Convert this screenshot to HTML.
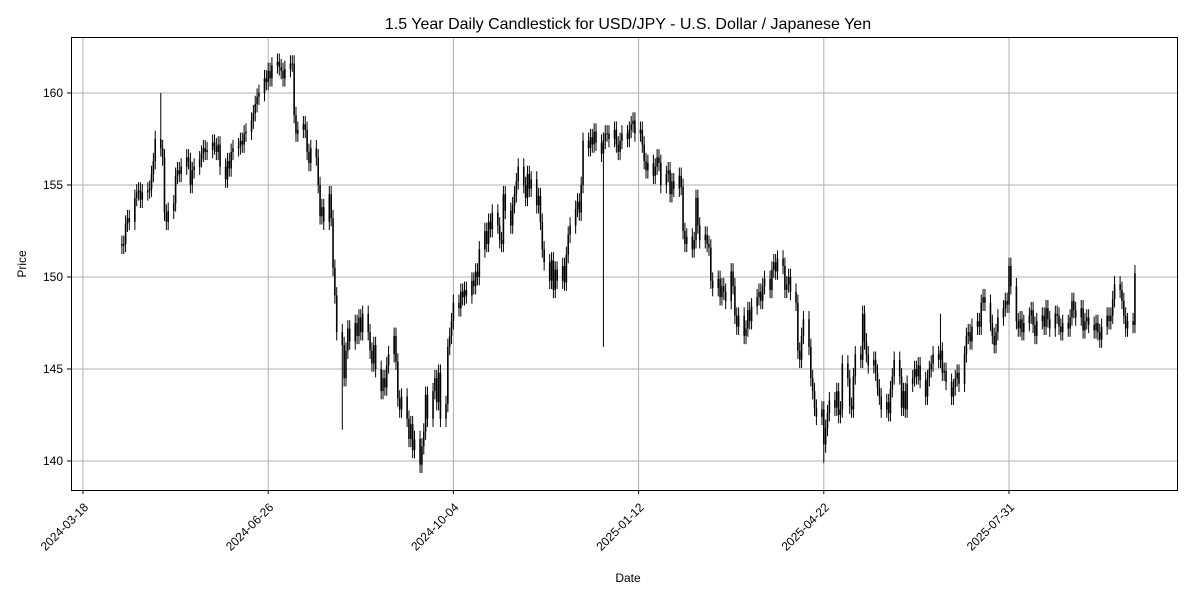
<!DOCTYPE html>
<html>
<head>
<meta charset="utf-8">
<style>
  html,body{margin:0;padding:0;background:#fff;}
  svg{display:block;font-family:"Liberation Sans","DejaVu Sans",sans-serif;}
</style>
</head>
<body>
<svg id="chart" width="1200" height="600" viewBox="0 0 1200 600">
  <rect x="0" y="0" width="1200" height="600" fill="#fff"/>
  <text x="628" y="29" text-anchor="middle" font-size="16" fill="#000">1.5 Year Daily Candlestick for USD/JPY - U.S. Dollar / Japanese Yen</text>
  <g id="grid"></g>
  <g id="candles"></g>
  <rect x="71.5" y="37.5" width="1106" height="453" fill="none" stroke="#000" stroke-width="1"/>
  <g id="xaxis"></g>
  <g id="yaxis"></g>
  <text x="628" y="582" text-anchor="middle" font-size="12">Date</text>
  <text x="0" y="0" transform="translate(26,264) rotate(-90)" text-anchor="middle" font-size="12">Price</text>
</svg>
<script>
const startDate = "2024-04-08";
const closes = [
151.7,151.8,152.9,153.2,153.0,154.3,154.6,154.7,154.2,154.6,154.7,154.8,155.6,156.3,157.5,157.0,156.5,153.5,153.0,153.6,
154.0,155.5,155.8,155.6,156.0,156.5,156.3,155.0,155.8,156.0,156.4,156.7,157.0,156.8,156.9,157.3,157.1,156.8,157.2,156.0,
155.3,156.3,155.9,156.8,157.0,157.1,157.4,157.2,157.8,157.9,158.5,158.9,159.4,159.8,160.0,160.8,160.6,161.2,160.8,161.5,
161.7,161.4,161.2,160.8,161.3,161.6,161.6,158.8,157.8,158.0,158.3,158.0,156.8,156.2,157.0,156.5,155.0,153.3,153.8,153.0,
154.5,153.2,150.5,149.0,147.0,146.3,144.5,146.0,147.2,146.5,147.5,146.8,147.8,147.0,148.0,147.0,146.0,145.3,146.3,145.0,
143.8,144.5,144.0,145.2,145.8,146.8,145.4,143.4,142.8,143.5,142.3,141.2,142.0,140.6,141.2,139.8,140.8,141.6,143.6,142.3,
143.8,144.5,143.2,144.8,142.3,143.1,146.2,146.8,147.6,148.6,148.3,149.2,148.9,149.3,149.0,149.8,149.5,150.3,150.0,151.5,
152.5,151.8,153.0,152.6,153.5,152.8,152.0,151.8,154.5,153.6,152.8,153.9,154.5,155.2,156.0,155.0,154.3,155.6,154.8,155.3,
153.9,154.4,153.0,151.5,150.8,149.8,150.9,149.3,150.4,149.8,150.6,149.7,151.2,152.3,152.8,153.7,154.1,153.5,155.0,157.4,
157.0,157.6,157.2,157.9,157.3,156.7,157.4,157.8,157.8,157.5,158.0,157.2,156.8,157.4,157.8,157.5,158.0,158.3,158.5,157.8,
158.0,157.2,156.3,155.8,156.2,155.5,156.0,156.5,156.2,155.0,155.6,155.8,154.5,155.2,154.8,155.5,154.9,152.5,151.8,152.2,
151.5,152.0,154.3,152.8,152.0,152.3,151.8,151.6,149.8,149.4,149.9,148.9,149.5,149.2,148.7,150.3,149.5,147.9,147.3,147.9,
146.8,147.2,148.2,147.6,148.4,148.9,149.2,148.7,149.5,149.9,149.3,150.4,150.8,150.3,151.0,150.6,149.3,149.6,150.0,149.2,
148.6,146.0,145.5,146.8,147.7,146.2,144.5,143.8,142.9,142.4,142.8,140.9,141.8,142.6,143.3,142.9,143.8,142.5,142.8,145.3,
144.5,143.0,142.8,144.6,145.8,145.5,148.0,146.5,145.8,145.2,145.5,144.8,144.0,143.5,142.8,143.2,142.6,143.9,144.6,145.5,
144.6,142.9,143.8,142.8,144.2,144.5,145.0,144.6,145.2,144.4,143.5,144.5,145.0,145.3,145.8,145.5,146.0,144.8,144.9,144.3,
143.5,144.0,144.5,144.8,144.2,145.8,146.8,147.0,146.5,147.3,147.6,147.3,148.6,148.9,148.6,147.5,146.8,146.3,147.0,147.8,
148.3,148.7,148.5,150.6,149.5,147.6,147.2,147.7,147.0,147.5,147.9,148.2,147.4,146.8,147.6,147.9,147.3,148.3,147.7,147.2,
148.0,147.9,147.3,147.0,147.5,147.2,147.8,148.7,148.2,147.8,148.3,147.1,147.6,147.8,147.4,147.1,147.5,147.0,146.6,147.3,
147.9,147.6,147.9,148.8,149.6,149.3,148.7,147.9,147.2,147.6,147.4,150.2
];
const firstOpen = 151.8;
const wickIndex = [15, 85, 115, 186, 271, 316, 343];
const wickPrice = [160.0, 141.7, 139.6, 146.2, 139.9, 148.0, 150.9];
const yTicks = [140, 145, 150, 155, 160];
const xTickLabels = ["2024-03-18","2024-06-26","2024-10-04","2025-01-12","2025-04-22","2025-07-31"];

const NS = "http://www.w3.org/2000/svg";
const DAY = 86400000;
const d0 = Date.UTC(2024, 2, 18);
function parseDate(s){const p=s.split("-").map(Number);return Date.UTC(p[0],p[1]-1,p[2]);}
function xScale(t){return 83 + (t - d0) / DAY * 1.852;}
function yScale(p){return 93 + (160 - p) * 18.4;}
function mk(tag, attrs, parent){const e=document.createElementNS(NS,tag);for(const k in attrs)e.setAttribute(k,attrs[k]);parent.appendChild(e);return e;}

const grid = document.getElementById("grid");
const xaxis = document.getElementById("xaxis");
const yaxis = document.getElementById("yaxis");
const cg = document.getElementById("candles");

yTicks.forEach(v=>{
  const y = yScale(v);
  const gl = mk("line",{x1:71,x2:1177,y1:y,y2:y,stroke:"#b0b0b0","stroke-width":1},grid);
  
  
  const tk = mk("line",{x1:67,x2:71,y1:y,y2:y,stroke:"#000"},yaxis);
  
  
  const t = mk("text",{x:63,y:y+4,"text-anchor":"end","font-size":12},yaxis);
  t.textContent = v;
  
  
});

xTickLabels.forEach(s=>{
  const x = xScale(parseDate(s));
  const gl = mk("line",{x1:x,x2:x,y1:37,y2:490,stroke:"#b0b0b0","stroke-width":1},grid);
  
  
  const tk = mk("line",{x1:x,x2:x,y1:490,y2:494,stroke:"#000"},xaxis);
  
  
  const t = mk("text",{x:0,y:0,"text-anchor":"end","font-size":12,transform:`translate(${x+6},${508}) rotate(-45)`},xaxis);
  t.textContent = s;
  
  
});

let t = parseDate(startDate);
let prev = firstOpen;
closes.forEach((c,i)=>{
  while(new Date(t).getUTCDay()===0 || new Date(t).getUTCDay()===6) t += DAY;
  const x = xScale(t);
  const o = prev;
  let hi = Math.max(o,c) + 0.45, lo = Math.min(o,c) - 0.45;
  const wi = wickIndex.indexOf(i);
  if (wi >= 0){ hi = Math.max(hi, wickPrice[wi]); lo = Math.min(lo, wickPrice[wi]); }
  const w = mk("line",{x1:x,x2:x,y1:yScale(hi),y2:yScale(lo),stroke:"#000","stroke-width":1},cg);
  
  
  const top = yScale(Math.max(o,c)), bot = yScale(Math.min(o,c));
  const b = mk("rect",{x:x-0.8,y:top,width:1.6,height:Math.max(1,bot-top),fill:"#000"},cg);
  
  
  prev = c;
  t += DAY;
});
</script>
</body>
</html>
